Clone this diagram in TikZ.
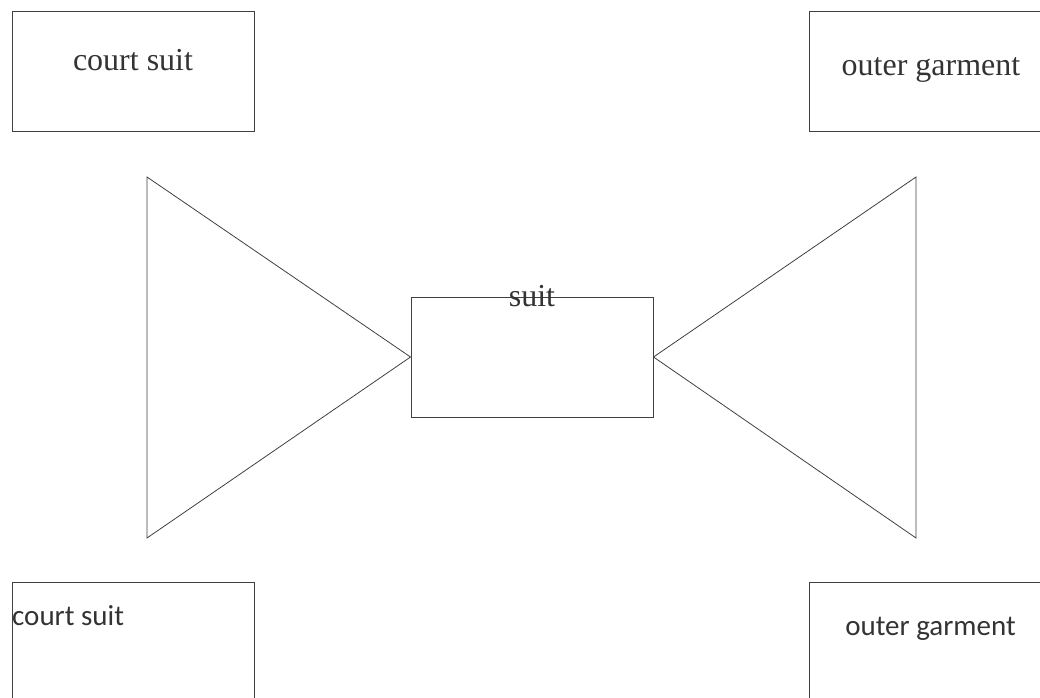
\documentclass[tikz,border=0pt]{standalone}
\usepackage{fontspec}
\setmainfont{Liberation Serif}
\newfontfamily\boxsans{Carlito}
\usepackage{tikz}
\usetikzlibrary{positioning}

\tikzset{
  box/.style={draw=black!75, line width=1pt, minimum width=242pt, minimum height=120pt, inner sep=0pt},
  seriftext/.style={text=black!80, font=\fontsize{32}{38}\selectfont, inner sep=0pt, anchor=base},
  sanstext/.style={text=black!80, font=\boxsans\fontsize{29}{35}\selectfont, inner sep=0pt, anchor=base}
}

\begin{document}
\begin{tikzpicture}[x=1pt,y=1pt]
  \useasboundingbox (0,0) rectangle (1040,697);
  \clip (0,0) rectangle (1040,697);
  % boxes
  \node[box] (courtTop) at (133,625) {};
  \node[box] (outerTop) at (930,625) {};
  \node[box] (courtBot) at (133,55) {};
  \node[box] (outerBot) at (930,55) {};
  \node[box] (suit) at (532,340) {};
  % labels
  \node[seriftext] (courtTopLbl) at (133,626) {court suit};
  \node[seriftext] (outerTopLbl) at (931,621) {outer garment};
  \node[sanstext, anchor=base west] (courtBotLbl) at (12,72) {court suit};
  \node[sanstext] (outerBotLbl) at (930.5,62) {outer garment};
  \node[seriftext] (suitLbl) at (532,391) {suit};
  % triangles
  \coordinate (leftTop) at (147,520);
  \coordinate (leftBot) at (147,159);
  \coordinate (rightTop) at (916,520);
  \coordinate (rightBot) at (916,159);
  \draw[black!75, line width=0.8pt] (leftTop) -- (leftBot) -- (suit.west) -- cycle;
  \draw[black!75, line width=0.8pt] (rightTop) -- (rightBot) -- (suit.east) -- cycle;
\end{tikzpicture}
\end{document}
